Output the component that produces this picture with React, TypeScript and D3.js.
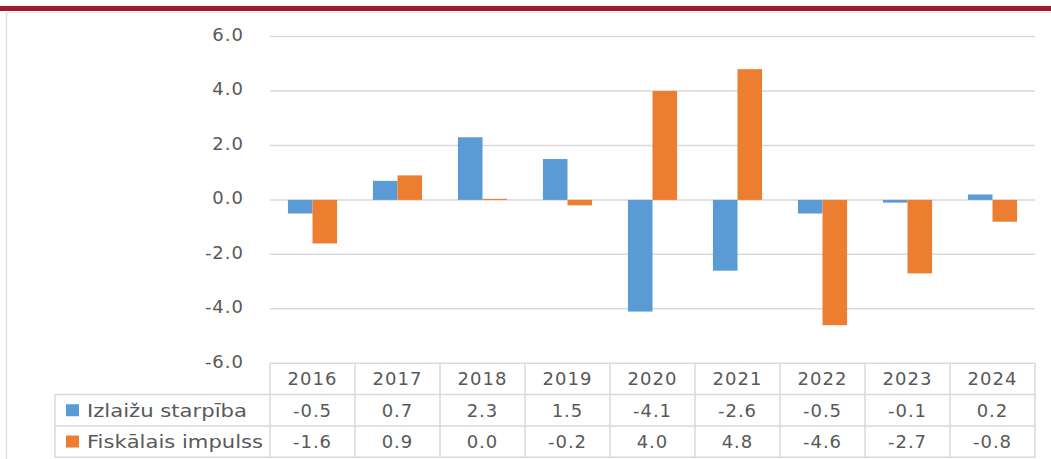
import React from "react";
import * as d3 from "d3";

const years = ["2016", "2017", "2018", "2019", "2020", "2021", "2022", "2023", "2024"];
const outputGap = [-0.5, 0.7, 2.3, 1.5, -4.1, -2.6, -0.5, -0.1, 0.2];
const fiscalImpulse = [-1.6, 0.9, 0.04, -0.2, 4.0, 4.8, -4.6, -2.7, -0.8];
const yTicks = [6, 4, 2, 0, -2, -4, -6];
const seriesNames = ["Izlaižu starpība", "Fiskālais impulss"];
const seriesColors = ["#5B9BD5", "#ED7D31"];

const W = 1051;
const H = 459;
const plotLeft = 270;
const plotRight = 1035;
const plotTop = 36.5;
const plotBottom = 363.3;
const rowH = 31.3;
const legendLeft = 55;
const textColor = "#595959";
const gridColor = "#d9d9d9";
const font = "'DejaVu Sans', Verdana, sans-serif";
const legendWidths = [160, 176];

const d3fmt = d3.format(".1f");
const fmt = (v: number) => d3fmt(v).replace("\u2212", "-");

export default function App() {
  const x = d3.scaleBand<string>().domain(years).range([plotLeft, plotRight]).paddingInner(0).paddingOuter(0);
  const y = d3.scaleLinear().domain([-6, 6]).range([plotBottom, plotTop]);
  const inner = d3
    .scaleBand<number>()
    .domain([0, 1])
    .range([0, x.bandwidth()])
    .paddingInner(0)
    .paddingOuter(0.73);
  const series = [outputGap, fiscalImpulse];
  const tableTop = plotBottom;
  const tableBottom = tableTop + rowH * 3;
  const txt = { fontFamily: font, fontSize: 18, fill: textColor, letterSpacing: 1 } as const;

  return (
    <svg width={W} height={H} style={{ position: "absolute", left: 0, top: 0, display: "block" }}>
      <rect x={0} y={0} width={W} height={H} fill="#fff" />
      {/* header band */}
      <rect x={0} y={6} width={W} height={5} fill="#9E1B32" />
      {/* frame */}
      <line x1={6.5} x2={W} y1={12.5} y2={12.5} stroke="#e6e6e6" strokeWidth={1} />
      <line x1={6.5} x2={6.5} y1={12} y2={H} stroke="#e0e0e0" strokeWidth={1.5} />

      {/* gridlines */}
      {yTicks.map((t) => (
        <g key={t}>
          {t !== -6 && (
            <line x1={plotLeft} x2={plotRight} y1={y(t)} y2={y(t)} stroke={gridColor} strokeWidth={1.5} />
          )}
          <text x={244} y={y(t) - 2} dy="0.35em" textAnchor="end" {...txt}>
            {fmt(t)}
          </text>
        </g>
      ))}

      {/* bars */}
      {series.map((vals, si) =>
        vals.map((v, i) => {
          const x0 = (x(years[i]) as number) + (inner(si) as number);
          const y0 = y(Math.max(0, v));
          const h = Math.abs(y(v) - y(0));
          return (
            <rect
              key={`${si}-${i}`}
              x={x0}
              y={y0}
              width={inner.bandwidth()}
              height={Math.max(h, 0.8)}
              fill={seriesColors[si]}
            />
          );
        })
      )}

      {/* data table */}
      <g stroke={gridColor} strokeWidth={1.5} fill="none">
        <line x1={plotLeft} x2={plotRight} y1={tableTop} y2={tableTop} />
        <line x1={legendLeft} x2={plotRight} y1={tableTop + rowH} y2={tableTop + rowH} />
        <line x1={legendLeft} x2={plotRight} y1={tableTop + rowH * 2} y2={tableTop + rowH * 2} />
        <line x1={legendLeft} x2={plotRight} y1={tableBottom} y2={tableBottom} />
        <line x1={legendLeft} x2={legendLeft} y1={tableTop + rowH} y2={tableBottom} />
        {years.map((yr) => (
          <line key={yr} x1={x(yr) as number} x2={x(yr) as number} y1={tableTop} y2={tableBottom} />
        ))}
        <line x1={plotRight} x2={plotRight} y1={tableTop} y2={tableBottom} />
      </g>
      {years.map((yr) => (
        <text
          key={yr}
          x={(x(yr) as number) + x.bandwidth() / 2}
          y={tableTop + rowH / 2 - 0.5}
          dy="0.36em"
          textAnchor="middle"
          {...txt}
        >
          {yr}
        </text>
      ))}
      {series.map((vals, si) => (
        <g key={si}>
          <rect
            x={66}
            y={tableTop + rowH * (si + 1) + rowH / 2 - 6}
            width={13}
            height={12}
            fill={seriesColors[si]}
          />
          <text
            x={87}
            y={tableTop + rowH * (si + 1) + rowH / 2}
            dy="0.36em"
            textLength={legendWidths[si]}
            lengthAdjust="spacingAndGlyphs"
            fontFamily={font}
            fontSize={18}
            fill={textColor}
          >
            {seriesNames[si]}
          </text>
          {vals.map((v, i) => (
            <text
              key={i}
              x={(x(years[i]) as number) + x.bandwidth() / 2}
              y={tableTop + rowH * (si + 1) + rowH / 2}
              dy="0.36em"
              textAnchor="middle"
              {...txt}
            >
              {fmt(v)}
            </text>
          ))}
        </g>
      ))}
    </svg>
  );
}
